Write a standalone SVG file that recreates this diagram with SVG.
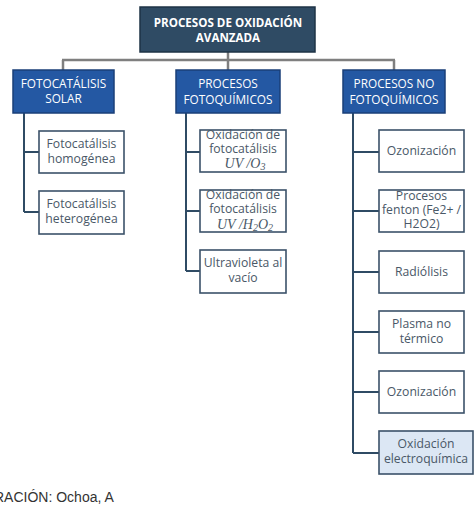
<svg xmlns="http://www.w3.org/2000/svg" width="474" height="512" viewBox="0 0 474 512">
<style>
.top{fill:#2F4B64;stroke:#1E3346;stroke-width:1.5}
.l1{fill:#2458A3;stroke:#1A3F78;stroke-width:1.5}
.ch{fill:#FFFFFF;stroke:#3B5269;stroke-width:1.6}
.hl{fill:#DCE7F4;stroke:#3B5269;stroke-width:1.6}
.tt{font-family:"Open Sans","Liberation Sans",sans-serif;font-size:11.6px;font-weight:bold;fill:#FFFFFF;text-anchor:middle}
.t1{font-family:"Open Sans","Liberation Sans",sans-serif;font-size:11.8px;fill:#FFFFFF;text-anchor:middle}
.tc{font-family:"Open Sans","Liberation Sans",sans-serif;font-size:12.2px;fill:#4A5867;text-anchor:middle}
.tm{font-family:"Liberation Serif",serif;font-size:14px;font-style:italic;fill:#4A5867;text-anchor:middle}
.sub{font-size:10px}
.gl{stroke:#7F7F7F;stroke-width:2.5;fill:none}
.tl{stroke:#2F4B64;stroke-width:2;fill:none}
.src{font-family:"Liberation Sans",Arial,sans-serif;font-size:14px;fill:#333333}
</style>
<g id="connectors">
<path class="gl" d="M228 52V60M62 60H395M63 60V70M228 60V70M394 60V70"/>
<path class="tl" d="M24 113V212M24 152H39M24 212H39"/>
<path class="tl" d="M186 113V271M186 152H200M186 211H200M186 271H200"/>
<path class="tl" d="M353 113V453M353 152H379M353 211H379M353 272H379M353 332H379M353 392H379M353 453H379"/>
</g>
<g id="n-root">
<rect class="top" x="140" y="7" width="175" height="45"/>
<text class="tt" x="228" y="27">PROCESOS DE OXIDACIÓN</text>
<text class="tt" x="228" y="42">AVANZADA</text>
</g>
<g id="n-solar">
<rect class="l1" x="13" y="70" width="101" height="43"/>
<text class="t1" x="63.5" y="88">FOTOCATÁLISIS</text>
<text class="t1" x="63.5" y="103">SOLAR</text>
</g>
<g id="n-foto">
<rect class="l1" x="176" y="70" width="104" height="43"/>
<text class="t1" x="228" y="88">PROCESOS</text>
<text class="t1" x="228" y="104">FOTOQUÍMICOS</text>
</g>
<g id="n-nofoto">
<rect class="l1" x="343" y="70" width="102" height="43"/>
<text class="t1" x="394" y="88">PROCESOS NO</text>
<text class="t1" x="394" y="104">FOTOQUÍMICOS</text>
</g>
<g id="n-homo">
<rect class="ch" x="39" y="131" width="85" height="42"/>
<text class="tc" x="81.5" y="148">Fotocatálisis</text>
<text class="tc" x="81.5" y="163">homogénea</text>
</g>
<g id="n-hetero">
<rect class="ch" x="39" y="191" width="85" height="43"/>
<text class="tc" x="81.5" y="208">Fotocatálisis</text>
<text class="tc" x="81.5" y="223">heterogénea</text>
</g>
<g id="n-uvo3">
<rect class="ch" x="200" y="130" width="86" height="42"/>
<text class="tc" x="243" y="139">Oxidación de</text>
<text class="tc" x="243" y="153">fotocatálisis</text>
<text class="tm" x="245" y="168">UV /O<tspan class="sub" dy="2">3</tspan></text>
</g>
<g id="n-uvh2o2">
<rect class="ch" x="200" y="190" width="86" height="42"/>
<text class="tc" x="243" y="199">Oxidación de</text>
<text class="tc" x="243" y="213">fotocatálisis</text>
<text class="tm" x="245" y="229">UV /H<tspan class="sub" dy="2">2</tspan><tspan dy="-2">O</tspan><tspan class="sub" dy="2">2</tspan></text>
</g>
<g id="n-vacio">
<rect class="ch" x="200" y="250" width="86" height="43"/>
<text class="tc" x="243" y="267">Ultravioleta al</text>
<text class="tc" x="243" y="282">vacío</text>
</g>
<g id="n-ozon1">
<rect class="ch" x="379" y="130" width="85" height="42"/>
<text class="tc" x="421.5" y="155">Ozonización</text>
</g>
<g id="n-fenton">
<rect class="ch" x="379" y="190" width="85" height="42"/>
<text class="tc" x="421.5" y="200">Procesos</text>
<text class="tc" x="421.5" y="214">fenton (Fe2+ /</text>
<text class="tc" x="421.5" y="228">H2O2)</text>
</g>
<g id="n-radio">
<rect class="ch" x="379" y="251" width="85" height="42"/>
<text class="tc" x="421.5" y="276">Radiólisis</text>
</g>
<g id="n-plasma">
<rect class="ch" x="379" y="311" width="85" height="42"/>
<text class="tc" x="421.5" y="328">Plasma no</text>
<text class="tc" x="421.5" y="343">térmico</text>
</g>
<g id="n-ozon2">
<rect class="ch" x="379" y="371" width="85" height="42"/>
<text class="tc" x="421.5" y="396">Ozonización</text>
</g>
<g id="n-electro">
<rect class="hl" x="379" y="431" width="94" height="43"/>
<text class="tc" x="426" y="448">Oxidación</text>
<text class="tc" x="426" y="463">electroquímica</text>
</g>
<text class="src" x="-6" y="502">RACIÓN: Ochoa, A</text>
</svg>
